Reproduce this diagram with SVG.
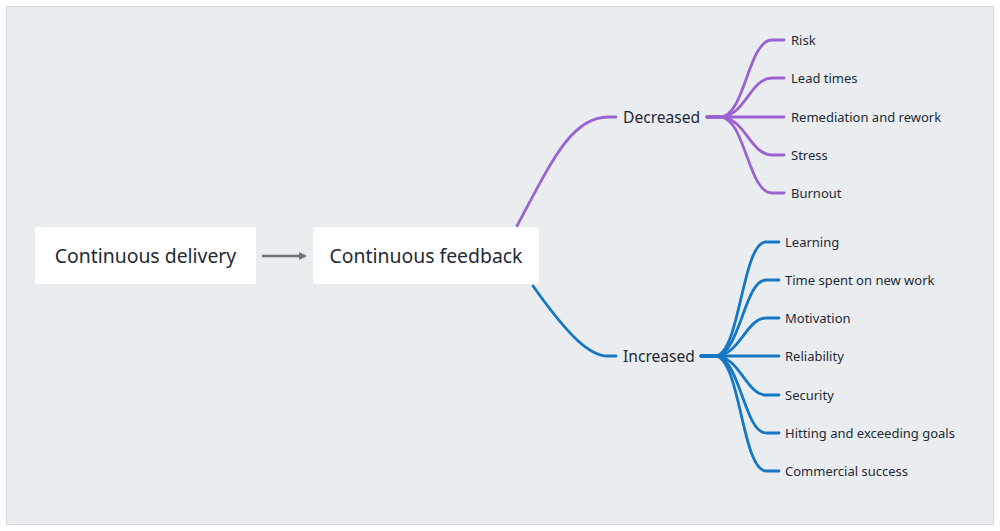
<svg xmlns="http://www.w3.org/2000/svg" width="1000" height="531" viewBox="0 0 1000 531">
<defs>
<style>
text{font-family:"Noto Sans","Liberation Sans",sans-serif;fill:#1f2a35}
.box{fill:#ffffff}
.main{font-size:19.4px}
.mid{font-size:15.6px}
.leaf{font-size:13px}
.dec{fill:none;stroke:#9b63d2;stroke-width:2.8;stroke-linecap:round}
.inc{fill:none;stroke:#1677c4;stroke-width:2.8;stroke-linecap:round}
</style>
<marker id="ah" markerWidth="8" markerHeight="8" refX="6" refY="4" orient="auto" markerUnits="userSpaceOnUse">
<path d="M0,0 L8,4 L0,8 Z" fill="#6b7680"/>
</marker>
</defs>
<rect x="0" y="0" width="1000" height="531" fill="#ffffff"/>
<rect x="6.5" y="6.5" width="987" height="518" fill="#e9edf0" stroke="#d3d7db" stroke-width="1"/>

<g id="connectors">
<line x1="262" y1="256" x2="305" y2="256" stroke="#6b7680" stroke-width="2.6" marker-end="url(#ah)"/>
<path class="dec" d="M517,226 C552,160 572,117 608,117 L616,117"/>
<path class="inc" d="M533,286 C570,338 590,356 608,356 L616,356"/>
<g>
<path class="dec" d="M707,117 L720,117 C745,117 748,40 772,40 L784,40"/>
<path class="dec" d="M707,117 L720,117 C745,117 750,78 772,78 L784,78"/>
<path class="dec" d="M707,117 L784,117"/>
<path class="dec" d="M707,117 L720,117 C745,117 750,155 772,155 L784,155"/>
<path class="dec" d="M707,117 L720,117 C745,117 748,193 772,193 L784,193"/>
</g>
<g>
<path class="inc" d="M701,356 L715,356 C740,356 742,242 766,242 L779,242"/>
<path class="inc" d="M701,356 L715,356 C740,356 744,280 766,280 L779,280"/>
<path class="inc" d="M701,356 L715,356 C740,356 746,318 766,318 L779,318"/>
<path class="inc" d="M701,356 L779,356"/>
<path class="inc" d="M701,356 L715,356 C740,356 746,395 766,395 L779,395"/>
<path class="inc" d="M701,356 L715,356 C740,356 744,433 766,433 L779,433"/>
<path class="inc" d="M701,356 L715,356 C740,356 742,471 766,471 L779,471"/>
</g>
</g>

<g id="node-delivery">
<rect class="box" x="35" y="227" width="221" height="57" rx="3"/>
<text class="main" x="145.5" y="263" text-anchor="middle">Continuous delivery</text>
</g>
<g id="node-feedback">
<rect class="box" x="313" y="227" width="226" height="57" rx="3"/>
<text class="main" x="426" y="263" text-anchor="middle">Continuous feedback</text>
</g>
<g id="node-decreased"><text class="mid" x="623" y="123">Decreased</text></g>
<g id="node-increased"><text class="mid" x="623" y="362">Increased</text></g>

<g id="node-risk"><text class="leaf" x="791" y="45">Risk</text></g>
<g id="node-lead"><text class="leaf" x="791" y="83">Lead times</text></g>
<g id="node-remediation"><text class="leaf" x="791" y="122">Remediation and rework</text></g>
<g id="node-stress"><text class="leaf" x="791" y="160">Stress</text></g>
<g id="node-burnout"><text class="leaf" x="791" y="198">Burnout</text></g>

<g id="node-learning"><text class="leaf" x="785" y="247">Learning</text></g>
<g id="node-time"><text class="leaf" x="785" y="285">Time spent on new work</text></g>
<g id="node-motivation"><text class="leaf" x="785" y="323">Motivation</text></g>
<g id="node-reliability"><text class="leaf" x="785" y="361">Reliability</text></g>
<g id="node-security"><text class="leaf" x="785" y="400">Security</text></g>
<g id="node-goals"><text class="leaf" x="785" y="438">Hitting and exceeding goals</text></g>
<g id="node-commercial"><text class="leaf" x="785" y="476">Commercial success</text></g>
</svg>
